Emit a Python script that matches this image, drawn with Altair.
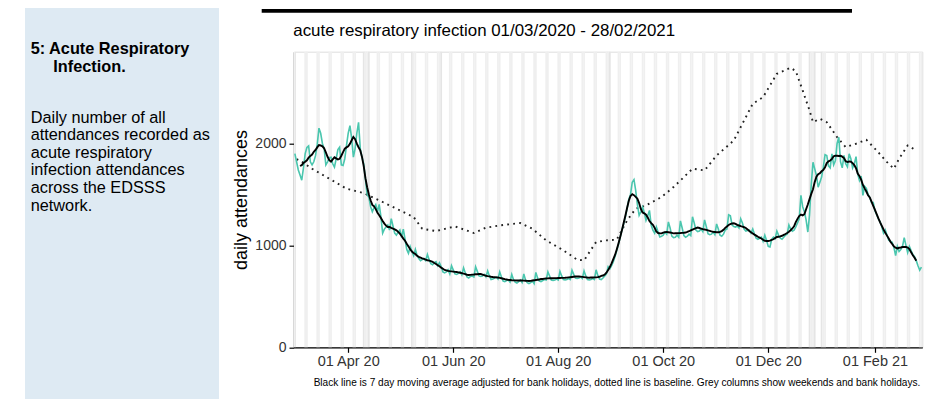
import altair as alt
import pandas as pd

# ---------------- data ----------------
first_day = "2020-03-01"

# daily acute respiratory infection attendances, 01/03/2020 .. 28/02/2021 (one row per week, Sun..Sat)
daily_counts = [
    1900, 1820, 1740, 1690, 1640, 1760, 1900,
    1960, 1975, 1820, 1790, 1820, 1880, 1990,
    2150, 2100, 2000, 1950, 1790, 1820, 1860,
    1865, 1800, 1767, 1850, 1940, 1963, 1790,
    1784, 1850, 1980, 2100, 2175, 2050, 1865,
    1950, 2100, 2207, 1950, 1865, 1800, 1650,
    1500, 1470, 1380, 1330, 1370, 1400, 1330,
    1402, 1280, 1121, 1160, 1180, 1200, 1150,
    1262, 1190, 1120, 1100, 1130, 1150, 1080,
    1160, 1060, 960, 922, 988, 940, 900,
    960, 900, 870, 850, 860, 870, 850,
    910, 860, 820, 810, 830, 840, 800,
    830, 790, 740, 730, 740, 760, 720,
    800, 760, 720, 715, 725, 740, 710,
    780, 730, 690, 680, 695, 700, 690,
    790, 745, 700, 695, 700, 715, 690,
    750, 700, 665, 670, 680, 690, 670,
    740, 690, 650, 645, 655, 660, 640,
    715, 665, 640, 630, 645, 660, 635,
    720, 660, 635, 625, 635, 650, 625,
    735, 680, 650, 645, 655, 665, 660,
    740, 700, 660, 655, 660, 670, 660,
    745, 700, 665, 660, 665, 675, 665,
    755, 715, 680, 675, 680, 690, 675,
    750, 700, 665, 660, 665, 675, 665,
    760, 705, 670, 665, 680, 700, 720,
    790, 770, 800, 840, 890, 950, 1010,
    1080, 1150, 1210, 1278, 1360, 1450, 1500,
    1620, 1645, 1539, 1400, 1294, 1330, 1376,
    1320, 1245, 1290, 1343, 1200, 1148, 1120,
    1180, 1130, 1082, 1090, 1100, 1130, 1110,
    1230, 1170, 1090, 1075, 1080, 1100, 1080,
    1240, 1170, 1095, 1080, 1090, 1110, 1095,
    1280, 1220, 1150, 1135, 1140, 1160, 1135,
    1250, 1185, 1115, 1105, 1110, 1130, 1105,
    1210, 1160, 1100, 1090, 1110, 1150, 1160,
    1300, 1290, 1200, 1185, 1180, 1190, 1170,
    1260, 1220, 1160, 1140, 1145, 1150, 1120,
    1160, 1110, 1070, 1060, 1070, 1080, 1040,
    1100, 1050, 990, 985, 1060, 1080, 1065,
    1140, 1100, 1070, 1060, 1080, 1100, 1110,
    1200, 1160, 1140, 1150, 1180, 1220, 1260,
    1490, 1380, 1330, 1250, 1131, 1300, 1600,
    1816, 1750, 1686, 1571, 1620, 1670, 1767,
    1890, 1882, 1780, 1760, 1898, 1790, 1830,
    2000, 2060, 1820, 1760, 1882, 1800, 1770,
    1898, 1850, 1760, 1800, 1870, 1700, 1637,
    1680, 1490, 1580, 1560, 1500, 1470, 1420,
    1420, 1340, 1300, 1260, 1230, 1180, 1120,
    1150, 1100, 1050, 1040, 1030, 980, 900,
    990, 940, 960, 990, 1076, 1000, 930,
    990, 950, 910, 890, 850, 800, 756,
    786,
]

baseline_dates = [
    "2020-03-02", "2020-03-04", "2020-03-11", "2020-03-21", "2020-03-31", "2020-04-10",
    "2020-04-19", "2020-04-29", "2020-05-09", "2020-05-14", "2020-05-22", "2020-06-02",
    "2020-06-13", "2020-06-20", "2020-06-28", "2020-07-10", "2020-07-17", "2020-07-25",
    "2020-08-04", "2020-08-12", "2020-08-16", "2020-08-23", "2020-08-29", "2020-09-04",
    "2020-09-10", "2020-09-15", "2020-09-21", "2020-09-30", "2020-10-07", "2020-10-13",
    "2020-10-18", "2020-10-25", "2020-11-01", "2020-11-11", "2020-11-16", "2020-11-22",
    "2020-11-28", "2020-12-06", "2020-12-14", "2020-12-17", "2020-12-21", "2020-12-25",
    "2020-12-27", "2020-12-31", "2021-01-04", "2021-01-10", "2021-01-15", "2021-01-21",
    "2021-01-27", "2021-02-02", "2021-02-08", "2021-02-12", "2021-02-15", "2021-02-20",
    "2021-02-25",
]
baseline_values = [
    1845, 1833, 1752, 1654, 1556, 1513,
    1441, 1360, 1278, 1163, 1140, 1186,
    1121, 1173, 1196, 1219, 1163, 1049,
    951, 860, 853, 1033, 1049, 1056,
    1245, 1360, 1392, 1474, 1572, 1670,
    1752, 1735, 1882, 2029, 2193, 2389,
    2454, 2683, 2742, 2710, 2520, 2324,
    2209, 2242, 2209, 2062, 1964, 1997,
    2036, 1931, 1817, 1752, 1850, 1980,
    1931,
]

bank_holidays = ["2020-04-10", "2020-04-13", "2020-05-08", "2020-05-25",
                 "2020-08-31", "2020-12-25", "2020-12-28", "2021-01-01"]

tick_dates = ["2020-04-01", "2020-06-01", "2020-08-01", "2020-10-01", "2020-12-01", "2021-02-01"]
y_ticks = [0, 1000, 2000]

chart_title = "acute respiratory infection 01/03/2020 - 28/02/2021"
y_title = "daily attendances"
caption = ("Black line is 7 day moving average adjusted for bank holidays, dotted line is baseline. "
           "Grey columns show weekends and bank holidays.")
side_heading_1 = "5: Acute Respiratory"
side_heading_2 = "Infection."
side_text = ["Daily number of all", "attendances recorded as", "acute respiratory",
             "infection attendances", "across the EDSSS", "network."]

# ---------------- tables ----------------
DAY = 86400000


def ms(s):
    return int(pd.Timestamp(s, tz="UTC").value // 10**6)


dates = pd.date_range(first_day, periods=len(daily_counts), freq="D", tz="UTC")
date_ms = [int(d.value // 10**6) for d in dates]
daily = pd.DataFrame({"date": date_ms, "value": daily_counts})
base = pd.DataFrame({"date": [ms(d) for d in baseline_dates], "value": baseline_values})

bh = set(bank_holidays)
cols = []
for d, m in zip(dates, date_ms):
    key = d.strftime("%Y-%m-%d")
    if d.weekday() >= 5 or key in bh:
        cols.append({"start": m - DAY // 2, "end": m + DAY // 2,
                     "kind": "bank" if key in bh else "weekend"})
cols = pd.DataFrame(cols)

dom = [date_ms[0] - DAY // 2, date_ms[-1] + DAY // 2]

W, H = 628.3, 295.6
FONT = "Liberation Sans"

xscale = alt.Scale(type="utc", domain=dom, nice=False)
xaxis = alt.Axis(title=None, values=[ms(t) for t in tick_dates],
                 labelExpr="utcFormat(datum.value, '%d %b %y')",
                 grid=False, domainColor="black", domainWidth=1.3,
                 tickColor="black", tickWidth=1.2, tickSize=5, labelFontSize=14.5,
                 labelColor="#333333", labelPadding=2, labelFont=FONT)
yscale = alt.Scale(domain=[0, 2900], nice=False)
yaxis = alt.Axis(title=y_title, values=y_ticks, format="d", grid=False, domainColor="black",
                 domainWidth=1.3, tickColor="black", tickWidth=1.2, tickSize=5,
                 labelFontSize=14, labelColor="#333333", labelPadding=3, labelFont=FONT,
                 titleFontSize=18, titleFontWeight="normal", titleColor="black",
                 titleFont=FONT, titleX=-44, titleY=H / 2)

one = pd.DataFrame({"a": [0]})

panel = alt.Chart(one).mark_rect(color="#deeaf3").encode(
    x=alt.value(-269), x2=alt.value(-75), y=alt.value(-44), y2=alt.value(360))

topline = alt.Chart(one).mark_rule(color="black", strokeWidth=3.6).encode(
    x=alt.value(-32.3), x2=alt.value(558), y=alt.value(-40.8))

columns = alt.Chart(cols).mark_rect().encode(
    x=alt.X("start:T", scale=xscale, axis=xaxis),
    x2="end:T",
    y=alt.value(0), y2=alt.value(H),
    color=alt.Color("kind:N", legend=None,
                    scale=alt.Scale(domain=["weekend", "bank"], range=["#efefef", "#e5e5e5"])),
)

baseline = alt.Chart(base).mark_line(color="#222222", strokeWidth=1.9, strokeDash=[1.8, 4.2]).encode(
    x=alt.X("date:T", scale=xscale, axis=xaxis),
    y=alt.Y("value:Q", scale=yscale, axis=yaxis),
)

teal = alt.Chart(daily).mark_line(color="#4ac6ae", strokeWidth=1.6).encode(
    x=alt.X("date:T", scale=xscale, axis=xaxis),
    y=alt.Y("value:Q", scale=yscale, axis=yaxis),
)

ma = alt.Chart(daily).transform_window(
    ma="mean(value)", n="count()", frame=[-3, 3], sort=[alt.SortField("date")]
).transform_filter("datum.n == 7").mark_line(color="black", strokeWidth=1.9).encode(
    x=alt.X("date:T", scale=xscale, axis=xaxis),
    y=alt.Y("ma:Q", scale=yscale, axis=yaxis),
)

title_t = alt.Chart(one).mark_text(align="left", baseline="alphabetic", fontSize=16.9,
                                   font=FONT, color="black").encode(
    x=alt.value(-0.7), y=alt.value(-16), text=alt.value(chart_title))

cap_t = alt.Chart(one).mark_text(align="center", baseline="alphabetic", fontSize=10.1,
                                 font=FONT, color="black").encode(
    x=alt.value(323), y=alt.value(334), text=alt.value(caption))

h1 = alt.Chart(one).mark_text(align="left", baseline="alphabetic", fontSize=16.3,
                              fontWeight="bold", font=FONT, color="black").encode(
    x=alt.value(-263.3), y=alt.value(2.6), text=alt.value(side_heading_1))
h2 = alt.Chart(one).mark_text(align="left", baseline="alphabetic", fontSize=16.3,
                              fontWeight="bold", font=FONT, color="black").encode(
    x=alt.value(-240.7), y=alt.value(20), text=alt.value(side_heading_2))
para = alt.Chart(one).mark_text(align="left", baseline="alphabetic", fontSize=16.3,
                                lineHeight=17.6, font=FONT, color="black").encode(
    x=alt.value(-263.3), y=alt.value(71), text=alt.value(side_text))

chart = alt.layer(panel, topline, columns, baseline, teal, ma, title_t, cap_t, h1, h2, para).properties(
    width=W, height=H,
    padding={"left": 286, "top": 43.7, "right": 20, "bottom": 52},
    autosize=alt.AutoSizeParams(type="none"),
    background="white",
).configure_view(stroke=None).configure(font=FONT)

chart.save("out.html", embed_options={"renderer": "svg", "actions": False})
